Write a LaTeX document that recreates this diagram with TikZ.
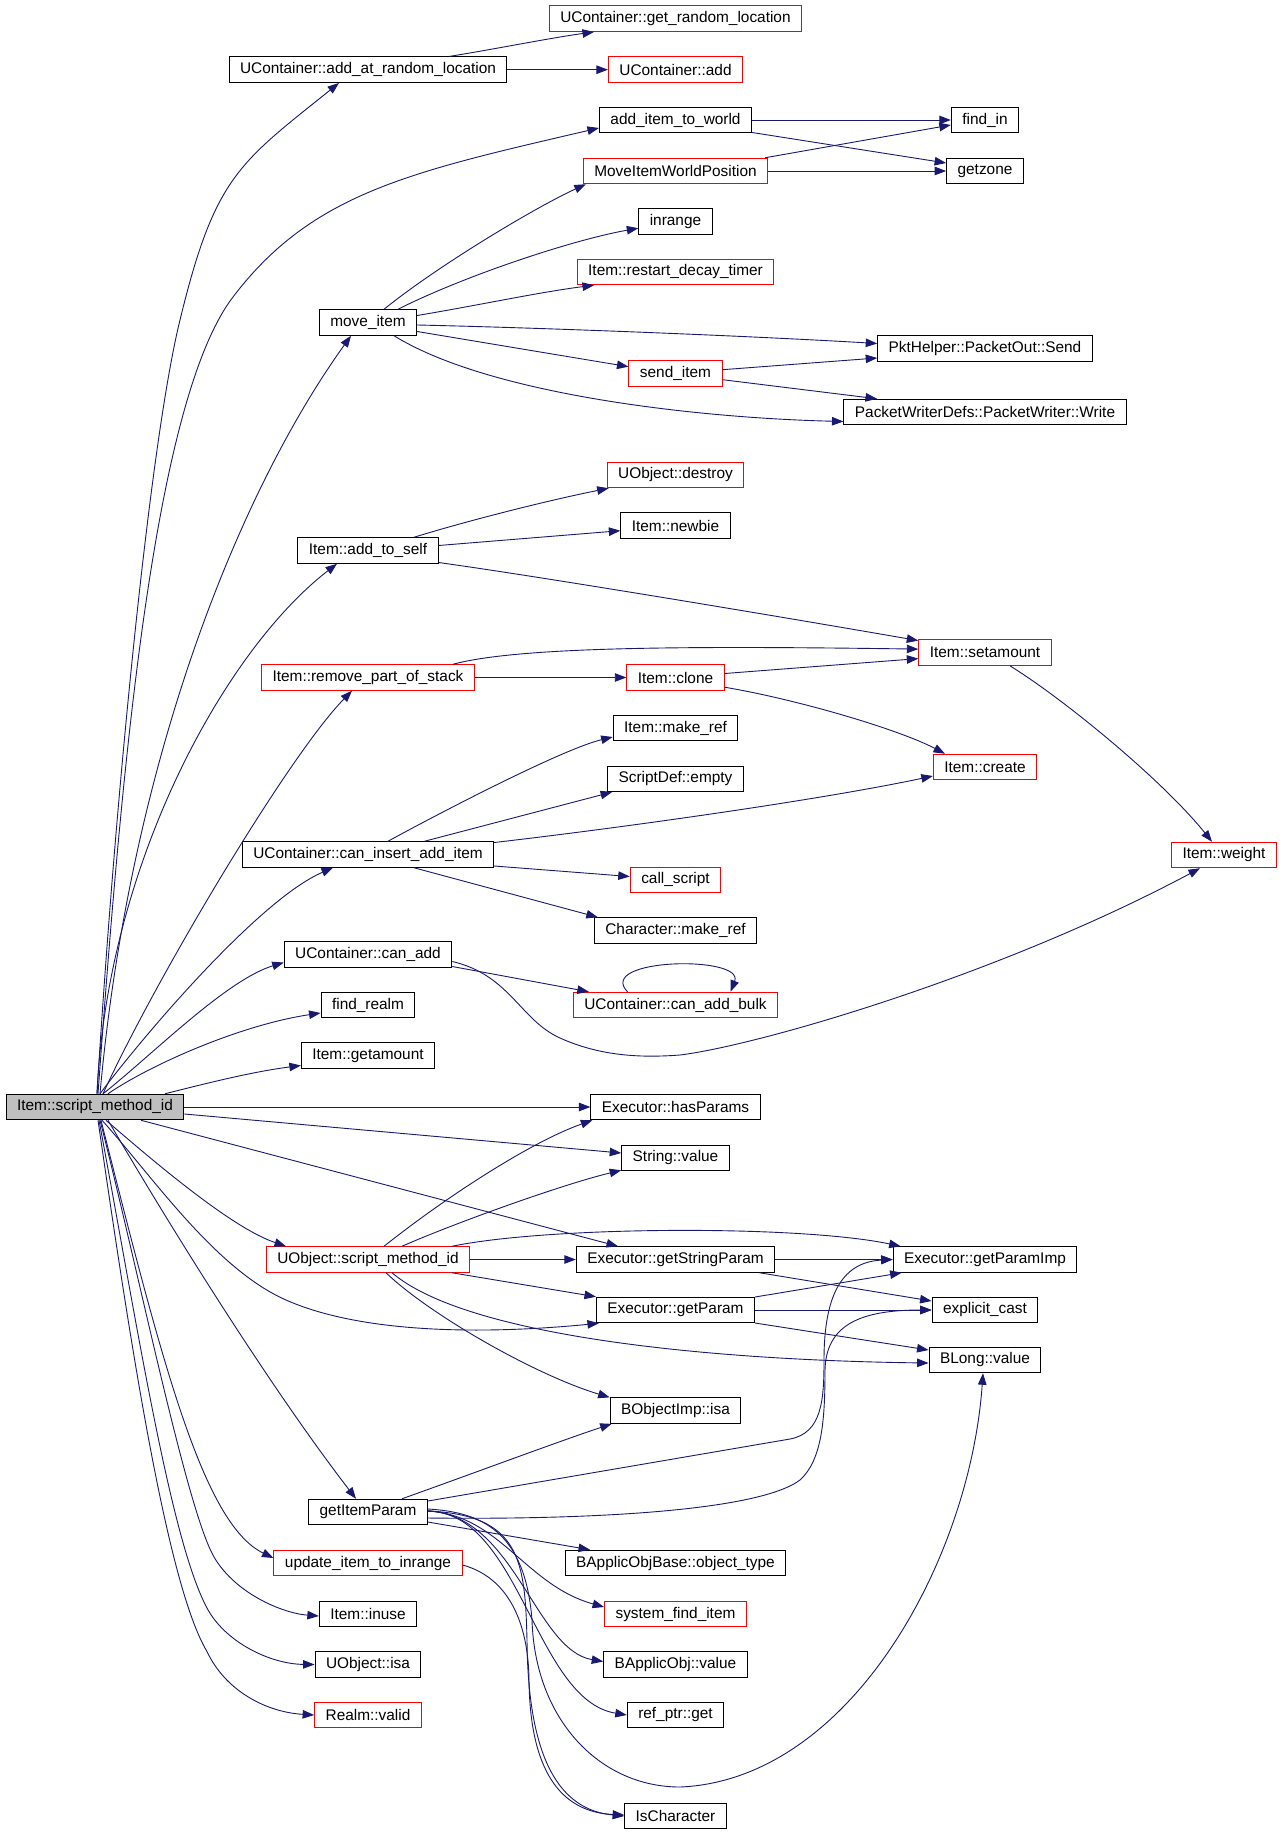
\documentclass[tikz,border=0pt]{standalone}
\usepackage{fontspec}
\setmainfont{Liberation Sans}
\usetikzlibrary{arrows.meta,calc}
\definecolor{edgec}{HTML}{191970}
\begin{document}
\begin{tikzpicture}[x=1pt,y=-1pt,
  nd/.style={draw=black, line width=1pt, fill=white, inner xsep=11pt, inner ysep=0pt, minimum height=25.5pt, font=\fontsize{15.4}{17}\selectfont},
  rd/.style={nd, draw=red},
  root/.style={nd, fill=gray!50},
  ed/.style={draw=edgec, line width=0.9pt, -{Triangle[length=11.5pt,width=8.5pt]}}
]
\fill[white] (0,0) rectangle (1283,1835);
\useasboundingbox (0,0) rectangle (1283,1835);

% column 0
\node[root] (S) at (95,1107) {Item::script\_method\_id};
% column 1
\node[nd] (A1) at (368,69.7) {UContainer::add\_at\_random\_location};
\node[nd] (MI) at (368,322.5) {move\_item};
\node[nd] (ATS) at (368,550.5) {Item::add\_to\_self};
\node[rd] (RPS) at (368,677.5) {Item::remove\_part\_of\_stack};
\node[nd] (CIA) at (368,854.5) {UContainer::can\_insert\_add\_item};
\node[nd] (CA) at (368,954.5) {UContainer::can\_add};
\node[nd] (FR) at (368,1005) {find\_realm};
\node[nd] (GA) at (368,1055.5) {Item::getamount};
\node[rd] (USM) at (368,1259.5) {UObject::script\_method\_id};
\node[nd] (GIP) at (368,1512) {getItemParam};
\node[rd] (UIR) at (368,1563) {update\_item\_to\_inrange};
\node[nd] (IU) at (368,1614) {Item::inuse};
\node[nd] (UISA) at (368,1664.5) {UObject::isa};
\node[rd] (RV) at (368,1715) {Realm::valid};
% column 2
\node[rd] (GRL) at (675.5,18.7) {UContainer::get\_random\_location};
\node[rd] (UCA) at (675.5,69.7) {UContainer::add};
\node[nd] (AIW) at (675.5,120) {add\_item\_to\_world};
\node[rd] (MIWP) at (675.5,171) {MoveItemWorldPosition};
\node[nd] (IR) at (675.5,221.7) {inrange};
\node[rd] (RDT) at (675.5,272) {Item::restart\_decay\_timer};
\node[rd] (SI) at (675.5,373.7) {send\_item};
\node[rd] (UOD) at (675.5,475) {UObject::destroy};
\node[nd] (NB) at (675.5,525.7) {Item::newbie};
\node[rd] (CL) at (675.5,677.5) {Item::clone};
\node[nd] (MR) at (675.5,728) {Item::make\_ref};
\node[nd] (SDE) at (675.5,778.8) {ScriptDef::empty};
\node[rd] (CS) at (675.5,880) {call\_script};
\node[nd] (CMR) at (675.5,930.5) {Character::make\_ref};
\node[rd] (CAB) at (675.5,1005) {UContainer::can\_add\_bulk};
\node[nd] (HP) at (675.5,1107) {Executor::hasParams};
\node[nd] (SV) at (675.5,1158) {String::value};
\node[nd] (GSP) at (675.5,1259.5) {Executor::getStringParam};
\node[nd] (GP) at (675.5,1310) {Executor::getParam};
\node[nd] (BOI) at (675.5,1410.6) {BObjectImp::isa};
\node[nd] (BAOT) at (675.5,1563) {BApplicObjBase::object\_type};
\node[rd] (SFI) at (675.5,1614) {system\_find\_item};
\node[nd] (BAV) at (675.5,1664.5) {BApplicObj::value};
\node[nd] (RPG) at (675.5,1715) {ref\_ptr::get};
\node[nd] (ISC) at (675.5,1816) {IsCharacter};
% column 3
\node[nd] (FI) at (985,120) {find\_in};
\node[nd] (GZ) at (985,171) {getzone};
\node[nd] (PS) at (985,348.5) {PktHelper::PacketOut::Send};
\node[nd] (PW) at (985,412) {PacketWriterDefs::PacketWriter::Write};
\node[rd] (SA) at (985,652.6) {Item::setamount};
\node[rd] (CR) at (985,767) {Item::create};
\node[nd] (GPI) at (985,1259.5) {Executor::getParamImp};
\node[nd] (EC) at (985,1310) {explicit\_cast};
\node[nd] (BL) at (985,1360) {BLong::value};
% column 4
\node[rd] (W) at (1224,855) {Item::weight};

% ---- edges from Item::script_method_id
\draw[ed] ([xshift=2pt]S.north) .. controls (114,814) and (149,446) .. (180,320) .. controls (214.8,176.6) and (238.8,163.4) .. ([xshift=-29pt]A1.south);
\draw[ed] ([xshift=3pt]S.north) .. controls (120,794) and (151,404) .. (233,297) .. controls (312,193) and (410,172) .. ($(AIW.west)+(0,8)$);
\draw[ed] ([xshift=5pt]S.north) .. controls (130,760) and (240,490) .. ([xshift=-17pt]MI.south);
\draw[ed] ([xshift=2pt]S.north) .. controls (107,864) and (225,650) .. ([xshift=-31pt]ATS.south);
\draw[ed] ([xshift=8pt]S.north) .. controls (156,978) and (289,755) .. ([xshift=-16pt]RPS.south);
\draw[ed] ([xshift=5pt]S.north) .. controls (140,1040) and (258,900) .. ([xshift=-35pt]CIA.south);
\draw[ed] ([xshift=8pt]S.north) .. controls (151,1056) and (226,980) .. ($(CA.west)+(0,8)$);
\draw[ed] ([xshift=13pt]S.north) .. controls (150,1065) and (240,1025) .. ($(FR.west)+(0,8)$);
\draw[ed] ([xshift=70pt]S.north) .. controls (200,1085) and (250,1072) .. ($(GA.west)+(0,10)$);
\draw[ed] (S.east) -- (HP.west);
\draw[ed] ($(S.east)+(0,7)$) -- ($(SV.west)+(0,-5)$);
\draw[ed] ([xshift=46pt]S.south) -- ([xshift=-57.5pt]GSP.north);
\draw[ed] ([xshift=11pt]S.south) .. controls (155.5,1163) and (232,1228) .. ([xshift=-82pt]USM.north);
\draw[ed] ([xshift=7pt]S.south) .. controls (151.5,1175) and (214.5,1268.5) .. (286,1300) .. controls (372,1338) and (510,1332) .. ($(GP.south west)+(3,0)$);
\draw[ed] ([xshift=13pt]S.south) .. controls (190,1260) and (280,1400) .. ([xshift=-12pt]GIP.north);
\draw[ed] ([xshift=6pt]S.south) .. controls (162,1362) and (203,1524) .. ($(UIR.west)+(0,-5)$);
\draw[ed] ([xshift=5pt]S.south) .. controls (137,1265) and (182,1487) .. (210,1549) .. controls (228,1590) and (280,1613) .. ($(IU.west)+(0,2)$);
\draw[ed] ([xshift=4pt]S.south) .. controls (136.5,1320.5) and (170,1539) .. (207,1608) .. controls (225,1642) and (270,1664) .. (UISA.west);
\draw[ed] ([xshift=3pt]S.south) .. controls (130,1341) and (167,1585) .. (207,1651.5) .. controls (225,1690) and (265,1712) .. (RV.west);

% ---- add_at_random_location
\draw[ed] ([xshift=81pt]A1.north) .. controls (490,50) and (550,38) .. ([xshift=-81.5pt]GRL.south);
\draw[ed] (A1.east) -- (UCA.west);
% ---- add_item_to_world / MoveItemWorldPosition
\draw[ed] (AIW.east) -- (FI.west);
\draw[ed] ($(AIW.east)+(0,12.5)$) -- ($(GZ.west)+(0,-8)$);
\draw[ed] ($(MIWP.north east)+(-3,0)$) -- ($(FI.west)+(0,5)$);
\draw[ed] (MIWP.east) -- (GZ.west);
% ---- move_item
\draw[ed] ([xshift=16pt]MI.north) .. controls (438,265.6) and (536,207) .. ($(MIWP.south west)+(3,0)$);
\draw[ed] ([xshift=30pt]MI.north) .. controls (464,276) and (572,240) .. ($(IR.west)+(0,6.5)$);
\draw[ed] ($(MI.east)+(0,-7)$) .. controls (480,305) and (540,292) .. ([xshift=-81.5pt]RDT.south);
\draw[ed] ($(MI.east)+(0,2.5)$) .. controls (550,328) and (750,336) .. ($(PS.west)+(0,-5)$);
\draw[ed] ($(MI.east)+(0,9)$) -- ($(SI.west)+(0,-7)$);
\draw[ed] ([xshift=26pt]MI.south) .. controls (490,395) and (698.5,418) .. ($(PW.west)+(0,9.5)$);
% ---- send_item
\draw[ed] ($(SI.east)+(0,-4)$) -- ($(PS.west)+(0,9.5)$);
\draw[ed] ($(SI.east)+(0,6)$) -- ([xshift=-108pt]PW.north);
% ---- add_to_self
\draw[ed] ([xshift=46pt]ATS.north) .. controls (470,520) and (550,500) .. ($(UOD.south west)+(2,0)$);
\draw[ed] ($(ATS.east)+(0,-5)$) -- ($(NB.west)+(0,5)$);
\draw[ed] ($(ATS.east)+(0,12)$) .. controls (550,578) and (800,620) .. ($(SA.west)+(0,-12)$);
% ---- remove_part_of_stack / clone / setamount
\draw[ed] ([xshift=85pt]RPS.north) .. controls (520,646) and (700,646) .. ($(SA.west)+(0,-3.5)$);
\draw[ed] (RPS.east) -- (CL.west);
\draw[ed] ($(CL.east)+(0,-4)$) -- ($(SA.west)+(0,6)$);
\draw[ed] ($(CL.east)+(0,9.7)$) .. controls (800,700) and (900,730) .. ([xshift=-40pt]CR.north);
\draw[ed] ([xshift=25pt]SA.south) .. controls (1063,698.5) and (1162,779.5) .. ([xshift=-12pt]W.north);
% ---- can_insert_add_item
\draw[ed] ([xshift=20pt]CIA.north) .. controls (422,822.5) and (559,750) .. ($(MR.west)+(0,9)$);
\draw[ed] ([xshift=56.5pt]CIA.north) -- ($(SDE.south west)+(5,0)$);
\draw[ed] ($(CIA.east)+(0,-12)$) .. controls (620,828) and (820,800) .. ($(CR.west)+(0,9)$);
\draw[ed] ($(CIA.east)+(0,11.5)$) -- ($(CS.west)+(0,-3.5)$);
\draw[ed] ([xshift=46pt]CIA.south) -- ($(CMR.north west)+(4,0)$);
% ---- can_add
\draw[ed] ($(CA.east)+(0,12)$) -- ($(CAB.north west)+(16,0)$);
\draw[ed] ($(CA.east)+(0,7)$) .. controls (510,975) and (520,1020) .. (560,1038) .. controls (600,1056) and (640,1058) .. (680,1055) .. controls (760,1045) and (1000,975) .. ([xshift=-24pt]W.south);
\draw[ed] ([xshift=-48pt]CAB.north) .. controls (595,958) and (745,955) .. ([xshift=55pt]CAB.north);
% ---- UObject::script_method_id
\draw[ed] ([xshift=16pt]USM.north) .. controls (449,1194.7) and (533,1141) .. ($(HP.south west)+(2,0)$);
\draw[ed] ([xshift=34pt]USM.north) .. controls (450,1225) and (560,1185) .. ($(SV.south west)+(0,-1)$);
\draw[ed] ([xshift=84pt]USM.north) .. controls (550,1226) and (800,1225) .. ($(GPI.north west)+(8,0)$);
\draw[ed] (USM.east) -- (GSP.west);
\draw[ed] ([xshift=84pt]USM.south) -- (GP.north west);
\draw[ed] ([xshift=24pt]USM.south) .. controls (465,1335) and (700,1360) .. ($(BL.west)+(0,3)$);
\draw[ed] ([xshift=18pt]USM.south) .. controls (430,1315) and (536.6,1375.6) .. (BOI.north west);
% ---- getStringParam / getParam
\draw[ed] (GSP.east) -- (GPI.west);
\draw[ed] ([xshift=84pt]GSP.south) -- ($(EC.west)+(0,-9)$);
\draw[ed] ($(GP.east)+(0,-13)$) -- ($(GPI.south west)+(9,0)$);
\draw[ed] (GP.east) -- (EC.west);
\draw[ed] ($(GP.east)+(0,13)$) -- ($(BL.west)+(0,-10)$);
% ---- getItemParam
\draw[ed] ([xshift=34pt]GIP.north) .. controls (466,1476) and (558.7,1441.4) .. ($(BOI.south west)+(2,0)$);
\draw[ed] ($(GIP.east)+(0,-11)$) -- (790,1439) .. controls (822,1433) and (824,1400) .. (824,1360) .. controls (824,1290) and (845,1262) .. (GPI.west);
\draw[ed] ($(GIP.east)+(0,6)$) .. controls (600,1520) and (760,1510) .. (800,1480) .. controls (822,1460) and (825,1420) .. (825,1370) .. controls (826,1325) and (860,1310) .. (EC.west);
\draw[ed] ($(GIP.east)+(0,-3)$) .. controls (480,1512) and (525,1530) .. (532,1620) .. controls (535,1720) and (600,1787) .. (680,1787) .. controls (850,1780) and (970,1560) .. ([xshift=-2pt]BL.south);
\draw[ed] ($(GIP.east)+(0,10)$) -- ([xshift=-85.5pt]BAOT.north);
\draw[ed] ($(GIP.east)+(0,-1)$) .. controls (500,1515) and (525,1585) .. ($(SFI.west)+(0,-7)$);
\draw[ed] ($(GIP.east)+(0,-1)$) .. controls (515,1515) and (535,1650) .. ($(BAV.west)+(0,-3)$);
\draw[ed] ($(GIP.east)+(0,-1)$) .. controls (520,1512) and (535,1700) .. (RPG.west);
\draw[ed] ($(GIP.east)+(0,-1)$) .. controls (520,1515) and (525,1560) .. (527,1640) .. controls (528,1760) and (560,1810) .. (ISC.west);
% ---- update_item_to_inrange
\draw[ed] ($(UIR.east)+(0,2)$) .. controls (500,1575) and (528,1610) .. (529,1680) .. controls (530,1770) and (560,1812) .. ($(ISC.west)+(0,-1)$);
\end{tikzpicture}
\end{document}
